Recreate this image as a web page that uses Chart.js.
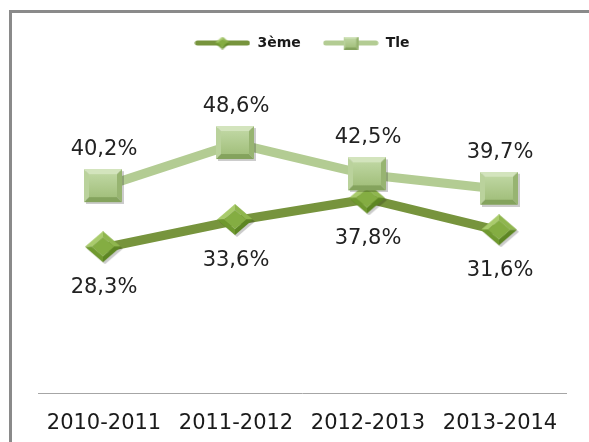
<!DOCTYPE html>
<html>
<head>
<meta charset="utf-8">
<script src="https://cdn.jsdelivr.net/npm/chart.js@4.4.0/dist/chart.umd.min.js"></script>
<style>
html, body { margin: 0; padding: 0; background: #fff; }
#wrap { position: relative; width: 589px; height: 442px; overflow: hidden; }
#frame { position: absolute; left: 9px; top: 10px; width: 620px; height: 480px; border-left: 3px solid #8a8a8a; border-top: 3px solid #8a8a8a; }
canvas { position: absolute; left: 0; top: 0; }
</style>
</head>
<body>
<div id="wrap">
    <div id="frame"></div>
    <canvas id="graph" width="589" height="442"></canvas>
</div>
<script>
const categories = ['2010-2011', '2011-2012', '2012-2013', '2013-2014'];
const seriesNames = ['3ème', 'Tle'];
const troisieme = [28.3, 33.6, 37.8, 31.6];
const terminale = [40.2, 48.6, 42.5, 39.7];

const darkGreen = '#77943d';
const lightGreen = '#b3cc93';

function poly(g, pts, color) {
    g.beginPath();
    g.moveTo(pts[0][0], pts[0][1]);
    for (let i = 1; i < pts.length; i++) {
        g.lineTo(pts[i][0], pts[i][1]);
    }
    g.closePath();
    g.fillStyle = color;
    g.fill();
}

// square with bevel, like the excel marker
function squareMarker(w, h, shadow) {
    const c = document.createElement('canvas');
    c.width = w + shadow;
    c.height = h + shadow;
    const g = c.getContext('2d');
    if (shadow) {
        g.fillStyle = 'rgba(0,0,0,0.2)';
        g.fillRect(shadow, shadow, w, h);
    }
    const b = Math.max(2, Math.round(w * 0.14));
    poly(g, [[0, 0], [w, 0], [w - b, b], [b, b]], '#d3e4bd');
    poly(g, [[0, 0], [b, b], [b, h - b], [0, h]], '#bad29c');
    poly(g, [[w, 0], [w, h], [w - b, h - b], [w - b, b]], '#97b471');
    poly(g, [[0, h], [b, h - b], [w - b, h - b], [w, h]], '#84a35d');
    const grad = g.createLinearGradient(0, b, 0, h - b);
    grad.addColorStop(0, '#bed6a1');
    grad.addColorStop(1, '#a3c07d');
    g.fillStyle = grad;
    g.fillRect(b, b, w - 2 * b, h - 2 * b);
    return c;
}

function diamondMarker(w, h, shadow) {
    const c = document.createElement('canvas');
    c.width = w + shadow;
    c.height = h + shadow;
    const g = c.getContext('2d');
    const cx = w / 2, cy = h / 2;
    if (shadow) {
        poly(g, [[cx + shadow, shadow], [w + shadow, cy + shadow], [cx + shadow, h + shadow], [shadow, cy + shadow]], 'rgba(0,0,0,0.2)');
    }
    const k = 0.62;
    const top = [cx, 0], right = [w, cy], bottom = [cx, h], left = [0, cy];
    const iTop = [cx, cy - cy * k], iRight = [cx + cx * k, cy], iBottom = [cx, cy + cy * k], iLeft = [cx - cx * k, cy];
    poly(g, [left, top, iTop, iLeft], '#a9cb6c');
    poly(g, [top, right, iRight, iTop], '#8fb64e');
    poly(g, [right, bottom, iBottom, iRight], '#5d8623');
    poly(g, [bottom, left, iLeft, iBottom], '#6f992f');
    poly(g, [iTop, iRight, iBottom, iLeft], '#84ad42');
    return c;
}

function legendSample(marker, color) {
    const c = document.createElement('canvas');
    c.width = 56;
    c.height = 16;
    const g = c.getContext('2d');
    g.strokeStyle = color;
    g.lineWidth = 5;
    g.lineCap = 'round';
    g.beginPath();
    g.moveTo(3, 8);
    g.lineTo(53, 8);
    g.stroke();
    g.drawImage(marker, 28 - marker.width / 2, 8 - marker.height / 2);
    return c;
}

const bigSquare = squareMarker(38, 33, 2);
const bigDiamond = diamondMarker(36, 31, 2);
const legendTroisieme = legendSample(diamondMarker(15, 13, 0), darkGreen);
const legendTle = legendSample(squareMarker(15, 13, 0), lightGreen);

function fmt(v) {
    return v.toFixed(1).replace('.', ',') + '%';
}

// labels over Tle, under 3ème
const labelOffsets = [-37, 40];

const labelPlugin = {
    id: 'valeurs',
    afterDatasetsDraw: function (chart) {
        const ctx = chart.ctx;
        ctx.save();
        ctx.font = '21px "DejaVu Sans"';
        ctx.fillStyle = '#222222';
        ctx.textAlign = 'center';
        ctx.textBaseline = 'middle';
        chart.data.datasets.forEach(function (ds, i) {
            const meta = chart.getDatasetMeta(i);
            meta.data.forEach(function (pt, j) {
                ctx.fillText(fmt(ds.data[j]), pt.x, pt.y + labelOffsets[i]);
            });
        });
        ctx.restore();
    }
};

const legendSpace = {
    id: 'legendSpace',
    beforeInit: function (chart) {
        const fitLegend = chart.legend.fit;
        chart.legend.fit = function () {
            fitLegend.bind(chart.legend)();
            this.height += 25;
        };
    }
};

let ctx = document.getElementById('graph').getContext('2d');

const data = {
    labels: categories,
    datasets: [
        {
            label: seriesNames[1],
            data: terminale,
            borderColor: lightGreen,
            borderWidth: 9,
            pointStyle: bigSquare,
            tension: 0
        },
        {
            label: seriesNames[0],
            data: troisieme,
            borderColor: darkGreen,
            borderWidth: 9,
            pointStyle: bigDiamond,
            tension: 0
        }
    ]
};

const config = {
    type: 'line',
    data: data,
    options: {
        responsive: false,
        animation: false,
        devicePixelRatio: 1,
        layout: {
            padding: {top: 14, left: 38, right: 23, bottom: 0}
        },
        plugins: {
            legend: {
                position: 'top',
                labels: {
                    usePointStyle: true,
                    pointStyleWidth: 56,
                    padding: 22,
                    color: '#1a1a1a',
                    font: {family: '"DejaVu Sans"', size: 14, weight: 'bold'},
                    generateLabels: function (chart) {
                        return [
                            {text: seriesNames[0], pointStyle: legendTroisieme, datasetIndex: 1, hidden: false, lineWidth: 0, fillStyle: 'transparent', strokeStyle: 'transparent', fontColor: '#1a1a1a'},
                            {text: seriesNames[1], pointStyle: legendTle, datasetIndex: 0, hidden: false, lineWidth: 0, fillStyle: 'transparent', strokeStyle: 'transparent', fontColor: '#1a1a1a'}
                        ];
                    }
                }
            },
            tooltip: {enabled: false}
        },
        scales: {
            x: {
                offset: true,
                grid: {display: true, drawOnChartArea: false, drawTicks: false, offset: true},
                border: {display: true, color: '#a6a6a6', width: 1},
                ticks: {
                    color: '#1a1a1a',
                    padding: 18,
                    maxRotation: 0,
                    autoSkip: false,
                    font: {family: '"DejaVu Sans"', size: 21}
                },
                afterFit: function (scale) {
                    scale.paddingLeft = 0;
                    scale.paddingRight = 0;
                    scale.height = 49;
                }
            },
            y: {
                display: false,
                min: 0,
                max: 60
            }
        }
    },
    plugins: [legendSpace, labelPlugin]
};

let graph1 = new Chart(ctx, config);
</script>
</body>
</html>
